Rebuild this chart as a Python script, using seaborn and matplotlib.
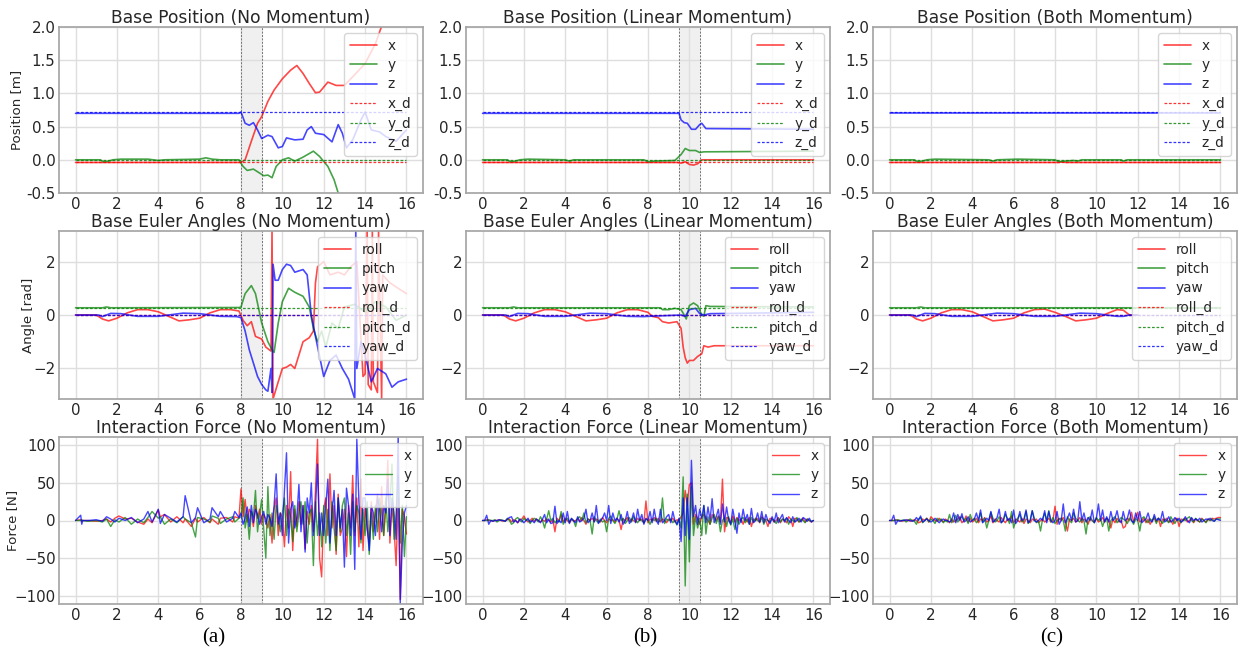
import numpy as np
import matplotlib
matplotlib.use("Agg")
import matplotlib.pyplot as plt
import seaborn as sns

# ---------------------------------------------------------------------------
# data (time [s], value)
# ---------------------------------------------------------------------------
CONDITIONS = ["No Momentum", "Linear Momentum", "Both Momentum"]
SUBFIG = ["(a)", "(b)", "(c)"]
SHADE = [(8.0, 9.0), (9.5, 10.5), None]

POS_D = [-0.04, 0.0, 0.72]          # x_d, y_d, z_d
EUL_D = [0.0, 0.27, 0.0]            # roll_d, pitch_d, yaw_d

# --- base position --------------------------------------------------------
POS_NO_X = [(0, -0.04), (8.0, -0.04), (8.2, 0.0), (8.5, 0.28), (8.8, 0.55), (9.0, 0.65),
            (9.3, 0.88), (9.6, 1.05), (10.0, 1.22), (10.4, 1.35), (10.7, 1.42), (11.0, 1.3),
            (11.3, 1.15), (11.6, 1.01), (11.8, 1.02), (12.2, 1.17), (12.6, 1.12), (13.0, 1.12),
            (13.4, 1.25), (14.0, 1.45), (14.5, 1.75), (14.9, 2.1)]
POS_NO_Y = [(0, 0.0), (1.2, 0.0), (1.35, -0.03), (1.6, -0.02), (1.8, 0.0), (2.2, 0.01),
            (3.5, 0.01), (4.0, -0.01), (4.3, 0.0), (6.0, 0.01), (6.3, 0.03), (6.6, 0.01),
            (7.0, 0.0), (7.9, 0.0), (8.1, -0.1), (8.3, -0.16), (8.6, -0.14), (8.9, -0.2),
            (9.1, -0.24), (9.3, -0.23), (9.5, -0.27), (9.7, -0.1), (10.0, 0.0), (10.3, 0.03),
            (10.6, -0.02), (11.0, 0.04), (11.5, 0.13), (11.8, 0.05), (12.2, -0.1), (12.5, -0.3),
            (12.8, -0.6)]
POS_NO_Z = [(0, 0.70), (7.9, 0.70), (8.0, 0.72), (8.2, 0.55), (8.4, 0.52), (8.6, 0.56),
            (8.8, 0.45), (9.0, 0.32), (9.3, 0.37), (9.5, 0.35), (9.8, 0.18), (10.0, 0.2),
            (10.2, 0.33), (10.6, 0.3), (11.0, 0.31), (11.2, 0.45), (11.4, 0.5), (11.6, 0.4),
            (12.0, 0.38), (12.4, 0.27), (12.7, 0.53), (12.9, 0.4), (13.1, 0.18), (13.4, 0.3),
            (13.8, 0.6), (14.0, 0.72), (14.3, 0.45), (14.7, 0.42), (15.0, 0.35), (15.5, 0.28),
            (16.0, 0.45)]

POS_LIN_X = [(0, -0.04), (9.4, -0.04), (9.6, -0.05), (9.8, -0.03), (10.0, -0.07), (10.2, -0.08),
             (10.4, -0.06), (10.6, 0.0), (16.0, 0.0)]
POS_LIN_Y = [(0, 0.0), (1.2, 0.0), (1.35, -0.03), (1.6, -0.02), (1.8, 0.0), (2.2, 0.01),
             (4.0, 0.0), (4.2, -0.02), (4.4, 0.0), (7.8, 0.0), (8.0, -0.03), (8.3, -0.02),
             (9.3, -0.01), (9.6, 0.08), (9.8, 0.17), (10.0, 0.14), (10.3, 0.14), (10.5, 0.11),
             (10.7, 0.12), (16.0, 0.13)]
POS_LIN_Z = [(0, 0.70), (9.5, 0.70), (9.6, 0.60), (9.75, 0.56), (9.9, 0.55), (10.1, 0.46),
             (10.3, 0.46), (10.5, 0.53), (10.6, 0.55), (10.8, 0.47), (16.0, 0.46)]

POS_BOTH_X = [(0, -0.04), (8.2, -0.04), (8.3, -0.03), (8.5, -0.04), (16.0, -0.04)]
POS_BOTH_Y = [(0, 0.0), (1.2, 0.0), (1.35, -0.03), (1.6, -0.02), (1.8, 0.0), (2.2, 0.01),
              (4.8, 0.0), (5.0, -0.02), (5.2, 0.0), (6.2, 0.01), (8.0, 0.0), (8.2, -0.03),
              (8.5, -0.02), (8.9, -0.01), (9.1, -0.02), (9.3, 0.0), (11.2, 0.0), (11.3, -0.02),
              (11.5, 0.0), (16.0, 0.0)]
POS_BOTH_Z = [(0, 0.70), (16.0, 0.70)]

# --- base euler angles ----------------------------------------------------
EUL_NO_ROLL = [(0, 0.0), (1.0, 0.0), (1.3, -0.15), (1.6, -0.22), (2.0, -0.12), (2.5, 0.08),
               (3.0, 0.2), (3.5, 0.2), (4.0, 0.12), (4.5, -0.05), (5.0, -0.22), (5.5, -0.18),
               (6.0, -0.12), (6.5, 0.08), (7.0, 0.2), (7.5, 0.2), (7.9, 0.15), (8.1, -0.2),
               (8.3, -0.4), (8.5, -0.25), (8.7, -0.8), (9.0, -0.9), (9.2, -1.2), (9.45, -1.35),
               (9.5, 3.14), (9.55, -3.14), (9.8, -2.5), (10.0, -2.0), (10.2, -1.95), (10.4, -1.85),
               (10.6, -2.0), (11.0, -1.0), (11.3, -0.85), (11.5, -0.6), (11.6, 1.2), (11.7, 1.8),
               (12.0, 2.0), (12.3, 1.5), (12.7, 1.6), (13.0, 1.5), (13.3, 1.8), (13.6, 2.0),
               (13.9, -2.3), (14.0, -2.2), (14.1, 3.14), (14.15, -2.6), (14.3, -2.8), (14.35, 3.14),
               (14.4, -2.5), (14.6, -2.9), (14.65, 3.14), (14.8, -3.14), (14.85, 1.5), (15.2, 1.2),
               (15.6, 1.0), (16.0, 0.8)]
EUL_NO_PITCH = [(0, 0.27), (1.3, 0.27), (1.5, 0.3), (1.7, 0.27), (7.9, 0.28), (8.0, 0.3),
                (8.2, 0.8), (8.4, 1.0), (8.5, 1.1), (8.7, 0.8), (9.0, -0.3), (9.3, -1.0),
                (9.5, -1.3), (9.6, -1.4), (9.8, -0.3), (10.0, 0.5), (10.3, 1.0), (10.6, 0.85),
                (11.0, 0.7), (11.3, 0.3), (11.5, -0.5), (11.7, -1.0), (11.9, -0.6), (12.1, -1.2),
                (12.4, -0.3), (12.7, -0.5), (13.0, 0.3), (13.5, 0.4), (14.0, 0.1), (14.5, 0.5),
                (15.0, 0.3), (15.5, -0.2), (16.0, 0.0)]
EUL_NO_YAW = [(0, 0.0), (1.1, 0.0), (1.3, -0.06), (1.7, 0.06), (2.2, 0.05), (2.6, 0.0),
              (3.0, -0.05), (4.0, -0.05), (4.5, 0.0), (5.2, 0.07), (6.0, 0.05), (6.5, 0.0),
              (7.0, -0.05), (7.8, -0.06), (8.0, -0.1), (8.2, -0.6), (8.4, -1.3), (8.6, -1.8),
              (8.8, -2.3), (9.0, -2.6), (9.2, -2.8), (9.3, -2.85), (9.45, -2.0), (9.5, -2.9),
              (9.55, 1.9), (9.65, 1.3), (9.8, 1.3), (10.0, 1.7), (10.2, 1.9), (10.4, 1.85),
              (10.6, 1.6), (10.8, 1.65), (11.0, 1.7), (11.2, 1.5), (11.4, 0.0), (11.6, -0.8),
              (12.0, -2.3), (12.3, -1.7), (12.6, -1.5), (12.9, -2.0), (13.2, -2.4), (13.5, -3.14),
              (13.55, 3.14), (13.6, -2.0), (13.8, -1.0), (14.0, -1.5), (14.3, -2.5), (14.6, -2.0),
              (15.0, -2.2), (15.3, -2.7), (15.6, -2.5), (16.0, -2.4)]

EUL_LIN_ROLL = [(0, 0.0), (1.0, 0.0), (1.3, -0.15), (1.6, -0.22), (2.0, -0.12), (2.5, 0.08),
                (3.0, 0.2), (3.5, 0.2), (4.0, 0.12), (4.5, -0.05), (5.0, -0.22), (5.5, -0.18),
                (6.0, -0.12), (6.5, 0.08), (7.0, 0.2), (7.5, 0.2), (8.0, 0.1), (8.2, -0.05),
                (8.5, -0.1), (8.7, -0.25), (9.0, -0.3), (9.4, -0.25), (9.6, -0.5), (9.7, -1.2),
                (9.8, -1.6), (9.9, -1.8), (10.0, -1.7), (10.2, -1.7), (10.4, -1.55), (10.6, -1.45),
                (10.7, -1.15), (10.9, -1.2), (11.2, -1.15), (16.0, -1.15)]
EUL_LIN_PITCH = [(0, 0.27), (1.3, 0.27), (1.5, 0.3), (1.7, 0.27), (8.6, 0.27), (8.7, 0.2),
                 (9.0, 0.2), (9.3, 0.25), (9.6, 0.2), (9.75, 0.0), (9.85, -0.15), (10.0, 0.35),
                 (10.2, 0.45), (10.4, 0.35), (10.6, 0.0), (10.7, -0.05), (10.8, 0.35), (11.0, 0.32),
                 (16.0, 0.3)]
EUL_LIN_YAW = [(0, 0.0), (1.1, 0.0), (1.3, -0.06), (1.7, 0.06), (2.2, 0.05), (2.6, 0.0),
               (3.0, -0.05), (4.0, -0.05), (4.5, 0.0), (5.2, 0.07), (6.0, 0.05), (6.5, 0.0),
               (7.0, -0.05), (7.8, -0.06), (8.0, -0.05), (9.6, 0.0), (9.8, -0.05), (10.0, 0.2),
               (10.3, 0.25), (10.5, 0.05), (10.7, 0.0), (11.0, 0.05), (16.0, 0.1)]

EUL_BOTH_ROLL = [(0, 0.0), (1.0, 0.0), (1.3, -0.15), (1.6, -0.22), (2.0, -0.12), (2.5, 0.08),
                 (3.0, 0.2), (3.5, 0.2), (4.0, 0.12), (4.5, -0.05), (5.0, -0.22), (5.5, -0.18),
                 (6.0, -0.12), (6.5, 0.08), (7.0, 0.2), (7.5, 0.22), (8.0, 0.1), (8.5, -0.05),
                 (9.0, -0.22), (9.5, -0.18), (10.0, -0.12), (10.5, 0.05), (11.0, 0.2), (11.3, 0.18),
                 (11.6, 0.0), (12.0, 0.0)]
EUL_BOTH_PITCH = [(0, 0.27), (1.3, 0.27), (1.5, 0.3), (1.7, 0.27), (16.0, 0.27)]
EUL_BOTH_YAW = [(0, 0.0), (1.1, 0.0), (1.3, -0.06), (1.7, 0.06), (2.2, 0.05), (2.6, 0.0),
                (3.0, -0.05), (4.0, -0.05), (4.5, 0.0), (5.2, 0.07), (6.0, 0.05), (6.5, 0.0),
                (7.0, -0.05), (8.0, -0.05), (8.5, 0.0), (9.2, 0.07), (10.0, 0.05), (10.5, 0.0),
                (11.0, -0.05), (11.3, -0.05), (11.6, 0.0), (12.0, 0.0)]

# --- interaction force ----------------------------------------------------
F_NO_T = [0.0, 0.25, 0.3, 0.35, 0.6, 1.0, 1.3, 1.5, 1.7, 1.9,
          2.1, 2.4, 2.7, 3.0, 3.3, 3.5, 3.7, 4.0, 4.1, 4.3,
          4.6, 4.9, 5.2, 5.3, 5.6, 5.8, 5.9, 6.2, 6.5, 6.6,
          6.9, 7.0, 7.3, 7.6, 7.7, 7.9,
          8.0, 8.1, 8.2, 8.3, 8.4, 8.5, 8.6, 8.7, 8.8, 8.9,
          9.0, 9.1, 9.2, 9.3, 9.4, 9.5, 9.6, 9.7, 9.8, 9.9,
          10.0, 10.1, 10.2, 10.3, 10.4, 10.5, 10.6, 10.7, 10.8, 10.9,
          11.0, 11.1, 11.2, 11.3, 11.4, 11.5, 11.6, 11.7, 11.8, 11.9,
          12.0, 12.1, 12.2, 12.3, 12.4, 12.5, 12.6, 12.7, 12.8, 12.9,
          13.0, 13.1, 13.2, 13.3, 13.4, 13.5, 13.6, 13.7, 13.8, 13.9,
          14.0, 14.1, 14.2, 14.3, 14.4, 14.5, 14.6, 14.7, 14.8, 14.9,
          15.0, 15.1, 15.2, 15.3, 15.4, 15.5, 15.6, 15.7, 15.8, 15.9,
          16.0]
F_NO_X = [0, 1, -1, 0, 0, -1, 0, 2, -2, 3,
          6, 2, 3, -2, -5, 2, -3, 14, 5, 8,
          -2, 5, -3, 2, -8, 3, -2, 4, -3, 2,
          -5, 3, 4, -2, 5, 3,
          42, 5, 28, -2, 15, 10, -8, 20, 3, 15,
          -5, 8, 2, -10, 8, -30, 15, 30, -20, 10,
          5, -35, 20, -10, 65, -40, 15, -8, 25, -5,
          20, -38, 12, -5, 20, -15, 40, 108, -50, -75,
          15, 30, -20, 62, -10, 20, -45, 35, -20, -10,
          15, -48, 20, -10, 60, -20, 30, -35, 55, -40,
          20, -10, -30, 25, -15, 10, 35, -25, 45, -20,
          15, 80, -30, 20, -10, -60, 30, -105, 15, 5,
          -18]
F_NO_Y = [0, 0, 1, 0, -1, 0, -2, 2, -8, 1,
          -2, 4, -5, 2, -3, 4, 12, 3, 5, -5,
          2, -3, 5, 2, -3, -22, 4, 2, -2, 6,
          3, -4, 2, 5, -2, 3,
          5, 30, -10, 8, -25, 12, 5, 40, -15, 8,
          28, -12, -50, 45, -20, 10, -25, 20, 5, -15,
          10, 30, -20, 15, 5, -28, 20, -15, 10, 25,
          -5, 25, -30, 10, 15, -60, 25, -20, 10, -35,
          20, -30, 15, -40, 25, -10, -40, 30, -15, 20,
          30, -20, 10, -45, 25, -15, 20, 10, -30, 15,
          -20, 25, -45, 10, -25, 20, -15, 30, 10, -20,
          30, -15, 20, 75, -25, 10, 60, -30, 20, -48,
          5]
F_NO_Z = [0, 7, -5, 0, 0, 1, -1, 5, 2, -2,
          3, 0, 4, -3, 2, 12, -2, 15, -4, 8,
          3, -2, 5, 33, -3, 4, 17, -3, 2, 17,
          5, 12, -2, 3, 12, 4,
          10, -5, 3, 18, -8, 20, -3, 15, 8, -5,
          5, 12, -5, 8, 3, -8, 20, 62, -5, 10,
          -20, 40, 90, -30, 15, 25, -10, 5, 48, -15,
          20, -42, 30, 10, 50, -20, 15, 75, -20, 10,
          -20, 20, 55, -30, 10, 40, -20, 30, -10, 15,
          -62, 43, 20, -20, 35, -65, 108, 25, -25, 30,
          30, -10, -40, 20, 10, -20, 32, 15, -15, 20,
          10, 55, -20, 30, 10, -25, 115, -110, -30, 10,
          20]

# columns (b) and (c) are sampled every 0.1 s
F_GRID_T = [0.0, 0.1, 0.2, 0.3, 0.4, 0.5, 0.6, 0.7, 0.8, 0.9,
            1.0, 1.1, 1.2, 1.3, 1.4, 1.5, 1.6, 1.7, 1.8, 1.9,
            2.0, 2.1, 2.2, 2.3, 2.4, 2.5, 2.6, 2.7, 2.8, 2.9,
            3.0, 3.1, 3.2, 3.3, 3.4, 3.5, 3.6, 3.7, 3.8, 3.9,
            4.0, 4.1, 4.2, 4.3, 4.4, 4.5, 4.6, 4.7, 4.8, 4.9,
            5.0, 5.1, 5.2, 5.3, 5.4, 5.5, 5.6, 5.7, 5.8, 5.9,
            6.0, 6.1, 6.2, 6.3, 6.4, 6.5, 6.6, 6.7, 6.8, 6.9,
            7.0, 7.1, 7.2, 7.3, 7.4, 7.5, 7.6, 7.7, 7.8, 7.9,
            8.0, 8.1, 8.2, 8.3, 8.4, 8.5, 8.6, 8.7, 8.8, 8.9,
            9.0, 9.1, 9.2, 9.3, 9.4, 9.5, 9.6, 9.7, 9.8, 9.9,
            10.0, 10.1, 10.2, 10.3, 10.4, 10.5, 10.6, 10.7, 10.8, 10.9,
            11.0, 11.1, 11.2, 11.3, 11.4, 11.5, 11.6, 11.7, 11.8, 11.9,
            12.0, 12.1, 12.2, 12.3, 12.4, 12.5, 12.6, 12.7, 12.8, 12.9,
            13.0, 13.1, 13.2, 13.3, 13.4, 13.5, 13.6, 13.7, 13.8, 13.9,
            14.0, 14.1, 14.2, 14.3, 14.4, 14.5, 14.6, 14.7, 14.8, 14.9,
            15.0, 15.1, 15.2, 15.3, 15.4, 15.5, 15.6, 15.7, 15.8, 15.9,
            16.0]

F_LIN_X = [0, 0, 1, 0, 0, -1, 0, 0, 1, 0,
           -1, 0, 1, 2, -2, 1, 0, -3, 1, 2,
           6, 1, -2, 0, 3, -1, 2, 0, -2, 1,
           -1, 2, 0, -2, 1, -15, 3, 0, 8, -2,
           3, 0, -3, 2, -1, 0, 2, -1, 4, 0,
           -5, 2, 0, 3, -1, 2, 0, -2, 4, 0,
           -3, 2, 0, 1, -2, 3, 0, -12, 2, 0,
           4, -1, 2, 0, -2, 3, 0, 2, -3, 26,
           -3, 2, 0, 4, -1, 3, -2, 2, 0, -3,
           2, 0, 3, -2, 1, 0, 5, 10, 40, 20,
           48, 50, -5, 8, 3, -5, 5, 8, 3, 0,
           -5, 8, 4, 0, 6, -2, 55, -15, 4, 3,
           -3, 6, -2, 4, 0, 2, -5, 3, -2, 4,
           -8, 2, 0, 3, -3, 5, 2, 0, -8, 3,
           2, -2, 0, 4, -3, 2, 0, -3, 5, 2,
           -8, 3, 2, -2, 0, 3, -2, 2, 0, -2,
           0]
F_LIN_Y = [0, 0, 0, 1, 0, 0, 1, -2, 0, 1,
           0, -1, 3, 0, -5, -3, 2, 4, 0, -2,
           3, 0, 1, -4, 0, 3, 1, -2, 5, 0,
           -10, 2, 13, 0, 3, -3, 0, -2, 12, -5,
           0, 3, -2, 2, 0, -8, 3, 5, 0, 10,
           -3, 2, 0, -18, 5, 0, -3, 2, -2, 0,
           -15, 3, 6, 0, -4, 2, 13, 0, 3, -4,
           0, 4, -2, 5, 0, -3, 2, 0, -3, 2,
           0, -5, 2, 0, 3, -2, 0, 30, -4, 2,
           0, 2, -3, 0, -6, 2, -10, 58, -87, 35,
           -55, 45, -20, 5, -10, 3, -20, 20, -18, 5,
           -5, 3, 8, -4, 5, -15, 0, 4, -8, 5,
           -6, 2, -12, 3, -5, 2, 4, -3, 2, -5,
           4, -2, 3, 0, -2, 4, -5, 2, 0, -2,
           2, 0, -4, 3, -2, 2, 0, 3, -5, 2,
           0, -2, 4, -2, 2, 0, -3, 2, 0, -1,
           0]
F_LIN_Z = [0, 0, 7, -5, 0, -1, 0, 0, 1, 0,
           0, -1, 2, 4, 5, -2, 0, -3, 2, 0,
           -3, 0, 3, -2, 0, -3, 2, 0, -3, 2,
           8, -3, 2, -4, -3, 19, -4, 0, -3, 10,
           -3, 12, -4, 3, 0, -3, 5, -2, 0, 3,
           15, -3, 0, 10, -2, 20, -4, 0, 3, 10,
           0, 20, -4, 10, 0, 3, -2, 8, -5, 0,
           12, -4, 0, 10, -3, 15, 0, 8, -5, 3,
           0, 12, -3, 15, 0, -5, 15, -3, 0, 5,
           8, -3, 12, 0, -5, 3, -28, 30, -20, 30,
           -25, 80, 5, 20, -5, 15, 3, 20, -3, 18,
           0, 29, -3, 5, 15, -5, 22, -2, 18, 0,
           -5, 15, 0, -17, 10, -3, 15, 0, 8, -5,
           16, -3, 0, 10, -2, 12, -3, 8, 0, -4,
           5, -2, 10, -3, 3, 8, -2, 4, 0, -3,
           5, -2, 0, 3, -2, 4, 2, -1, 3, -2,
           0]

F_BOTH_X = [0, 0, 0, 1, 0, 0, -1, 0, 0, 1,
            -1, 0, 1, 0, -3, -2, 2, 0, 3, -2,
            5, 2, 0, -1, 3, 0, -2, 2, 0, -3,
            2, -2, 0, 2, 5, -3, 0, 6, -2, 3,
            -2, 0, 3, -3, 2, 0, 4, -2, 0, 6,
            -3, 2, 0, -2, 4, 0, -3, 2, 0, 6,
            -3, 2, 0, -2, 3, -4, 2, 0, -3, 2,
            0, 2, -3, 0, 2, -2, 0, 3, -2, 0,
            19, -5, 3, 0, 4, -2, -14, 2, 0, 3,
            -2, 0, 4, -3, 2, 0, -5, 3, 0, -2,
            3, -2, 0, 4, -2, 3, 0, -10, 2, -3,
            3, -2, 0, -10, -8, 3, 0, 11, -2, 3,
            11, -2, 0, 3, -3, 2, -5, 0, 3, -2,
            3, -8, 2, 0, 3, -2, 0, -5, 2, 3,
            -8, 2, 0, 3, -2, 0, 3, -3, 2, 0,
            -2, 3, 0, -2, 2, 0, 3, 2, 3, 4,
            4]
F_BOTH_Y = [0, 0, 0, 0, 1, 0, 0, 1, -2, 0,
            2, 0, -1, -5, 2, 4, -3, 0, 3, -2,
            2, 0, -4, 3, 0, 2, -3, 0, -2, 8,
            -3, 0, 7, -2, 3, 5, 0, 3, -4, 8,
            0, 3, -3, 0, 10, -2, 3, -10, 0, 11,
            3, -2, 0, 5, -3, 0, 8, 3, -4, 12,
            -10, 0, 3, 8, -2, 0, 12, -4, 0, 13,
            3, -3, 0, -14, 2, 10, 0, 13, -2, 4,
            -4, 0, 2, 3, 0, -14, 5, 0, -3, 10,
            3, 0, -2, 3, 0, -18, 3, 5, 0, -3,
            4, 0, 3, -8, 0, 3, -14, 0, 3, 5,
            -3, 0, 4, 2, 0, -4, 3, 0, -5, 2,
            0, -14, 3, 5, 0, -3, 2, 0, 5, -4,
            3, 0, -4, 2, 0, -3, 5, 0, -4, 2,
            0, -3, 2, 0, 3, 5, 0, -2, 3, 0,
            -2, 2, 0, -3, 2, 0, 2, -1, 2, 2,
            2]
F_BOTH_Z = [0, 0, 7, -5, 0, -1, 0, 0, 1, 0,
            0, -1, 0, 4, 0, 6, -2, 0, 2, 0,
            -2, 0, 3, 0, -3, 0, 2, 0, 0, -2,
            0, 10, -3, 8, 0, 9, -2, 0, 5, -2,
            0, 2, 10, 0, 14, -3, 0, 3, 0, 12,
            -2, 0, 4, 15, -3, 0, 12, 0, 3, -3,
            14, -4, 0, 12, 0, 2, 14, -3, 0, 13,
            0, -2, 0, 3, 0, 13, -3, 12, 0, -3,
            0, 12, -5, 0, 22, -3, 3, 10, 0, 15,
            -2, 0, 25, 0, 10, -2, 4, 0, 14, -3,
            3, 22, 0, 14, -2, 5, -2, 12, 0, 3,
            13, 0, -3, 12, 0, 3, 14, 0, -3, 10,
            0, 12, -3, 0, 2, 10, 0, -2, 8, 0,
            3, 0, 12, -2, 0, 5, -2, 0, 4, 0,
            3, -2, 0, 5, 0, -3, 4, 0, 2, 0,
            3, -2, 0, 2, 1, 3, 0, -1, 2, 1,
            0]

POS = [(POS_NO_X, POS_NO_Y, POS_NO_Z),
       (POS_LIN_X, POS_LIN_Y, POS_LIN_Z),
       (POS_BOTH_X, POS_BOTH_Y, POS_BOTH_Z)]
EUL = [(EUL_NO_ROLL, EUL_NO_PITCH, EUL_NO_YAW),
       (EUL_LIN_ROLL, EUL_LIN_PITCH, EUL_LIN_YAW),
       (EUL_BOTH_ROLL, EUL_BOTH_PITCH, EUL_BOTH_YAW)]
FORCE = [(F_NO_T, F_NO_X, F_NO_Y, F_NO_Z),
         (F_GRID_T, F_LIN_X, F_LIN_Y, F_LIN_Z),
         (F_GRID_T, F_BOTH_X, F_BOTH_Y, F_BOTH_Z)]

# ---------------------------------------------------------------------------
# style
# ---------------------------------------------------------------------------
sns.set_theme(style="whitegrid", rc={
    "axes.edgecolor": "0.65",
    "grid.color": "0.87",
    "xtick.major.size": 0,
    "ytick.major.size": 0,
    "xtick.major.pad": 3,
    "ytick.major.pad": 2.5,
})
plt.rcParams["font.family"] = ["DejaVu Sans"]

COLORS = ["red", "green", "blue"]
ALPHA = 0.72
DASH = (0, (2.2, 1.4))

W, H = 1240, 659
LEFTS = [59, 466, 873]
ROWS = [(27, 193), (231, 399), (437, 604)]
AX_W = 364
YLABEL_RIGHT = [23, 35, 19]   # px, right edge of the rotated y label per row

fig = plt.figure(figsize=(W / 100, H / 100), dpi=100)


def make_ax(r, c):
    top, bot = ROWS[r]
    return fig.add_axes([LEFTS[c] / W, 1 - bot / H, AX_W / W, (bot - top) / H])


def line(ax, pts, color, label, lw=1.2):
    t, v = np.array(pts).T
    sns.lineplot(x=t, y=v, ax=ax, color=color, lw=lw, alpha=ALPHA,
                 sort=False, estimator=None, label=label)


def ref_line(ax, val, color, label):
    sns.lineplot(x=[0, 16], y=[val, val], ax=ax, color=color, lw=0.9, alpha=0.8,
                 linestyle=DASH, sort=False, estimator=None, label=label)


def finish(ax, r, c, title, ylim, yticks, ylabel):
    if SHADE[c] is not None:
        a, b = SHADE[c]
        ax.axvspan(a, b, color="0.94", zorder=0)
        for xv in (a, b):
            ax.axvline(xv, color="0.45", lw=0.7, ls=(0, (2, 1.5)), zorder=1)
    ax.set_xlim(-0.8, 16.8)
    ax.set_ylim(*ylim)
    ax.set_xticks(range(0, 17, 2))
    ax.set_yticks(yticks)
    ax.tick_params(labelsize=10.8, colors="0.15")
    ax.set_title(title, fontsize=12.3, pad=3)
    ax.set_xlabel("")
    if c == 0:
        ax.set_ylabel(ylabel, fontsize=9.6)
        ax.yaxis.set_label_coords((YLABEL_RIGHT[r] - LEFTS[0]) / AX_W, 0.5)
    else:
        ax.set_ylabel("")
    ax.legend(loc="upper right", fontsize=9.8, framealpha=0.8,
              borderaxespad=0.45, labelspacing=0.4, handlelength=2.0)


for c, cond in enumerate(CONDITIONS):
    # base position
    ax = make_ax(0, c)
    for pts, col, lab in zip(POS[c], COLORS, ["x", "y", "z"]):
        line(ax, pts, col, lab)
    for val, col, lab in zip(POS_D, COLORS, ["x_d", "y_d", "z_d"]):
        ref_line(ax, val, col, lab)
    finish(ax, 0, c, f"Base Position ({cond})", (-0.5, 2.0),
           [-0.5, 0.0, 0.5, 1.0, 1.5, 2.0], "Position [m]")
    ax.yaxis.set_major_formatter(matplotlib.ticker.FormatStrFormatter("%.1f"))

    # euler angles
    ax = make_ax(1, c)
    for pts, col, lab in zip(EUL[c], COLORS, ["roll", "pitch", "yaw"]):
        line(ax, pts, col, lab)
    for val, col, lab in zip(EUL_D, COLORS, ["roll_d", "pitch_d", "yaw_d"]):
        ref_line(ax, val, col, lab)
    finish(ax, 1, c, f"Base Euler Angles ({cond})", (-np.pi, np.pi),
           [-2, 0, 2], "Angle [rad]")

    # interaction force
    ax = make_ax(2, c)
    t = FORCE[c][0]
    for vals, col, lab in zip(FORCE[c][1:], COLORS, ["x", "y", "z"]):
        line(ax, list(zip(t, vals)), col, lab, lw=1.0)
    finish(ax, 2, c, f"Interaction Force ({cond})", (-111, 111),
           [-100, -50, 0, 50, 100], "Force [N]")

for x_px, lab in zip([214, 645, 1052], SUBFIG):
    fig.text(x_px / W, 1 - 638 / H, lab, ha="center", va="center",
             fontsize=15, family="Liberation Serif", color="black")

fig.savefig("out.png", dpi=100)
